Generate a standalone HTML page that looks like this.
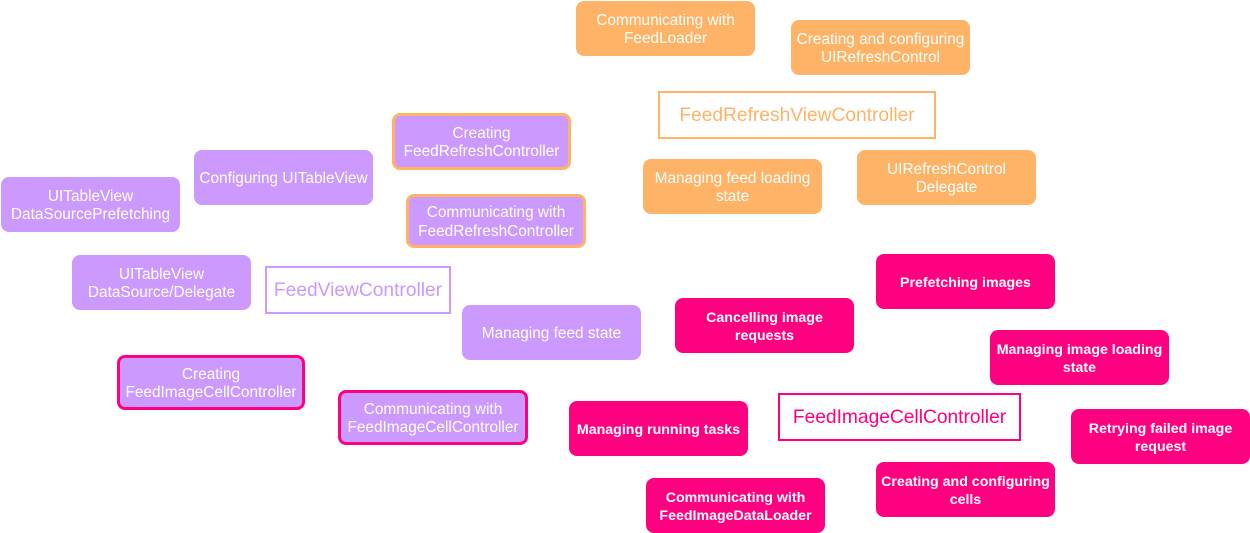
<!DOCTYPE html>
<html><head><meta charset="utf-8"><style>
html,body{margin:0;padding:0;background:#fff;}
body{width:1250px;height:533px;position:relative;overflow:hidden;font-family:"Liberation Sans",Arial,sans-serif;}
.b{position:absolute;box-sizing:border-box;border-radius:8px;display:flex;align-items:center;justify-content:center;text-align:center;color:#fff;font-size:15.4px;line-height:18.5px;padding-top:3px;}
.o{background:#FFB366;}
.p{background:#CC99FF;}
.k{background:#FF0080;font-weight:bold;font-size:14.2px;}
.ob{border:3px solid #FFB366;}
.kb{border:3px solid #FF0080;}
.t{position:absolute;box-sizing:border-box;background:#fff;display:flex;align-items:center;justify-content:center;font-size:19.2px;padding-top:2px;}
</style></head><body>
<div class="b o" style="left:576px;top:1px;width:179px;height:55px">Communicating with<br>FeedLoader</div>
<div class="b o" style="left:791px;top:20px;width:179px;height:55px">Creating and configuring<br>UIRefreshControl</div>
<div class="t" style="left:658px;top:91px;width:278px;height:48px;border:2px solid #FFB366;color:#FFB366">FeedRefreshViewController</div>
<div class="b o" style="left:643px;top:159px;width:179px;height:55px">Managing feed loading<br>state</div>
<div class="b o" style="left:857px;top:150px;width:179px;height:55px">UIRefreshControl<br>Delegate</div>

<div class="b p ob" style="left:392px;top:113px;width:179px;height:57px">Creating<br>FeedRefreshController</div>
<div class="b p ob" style="left:406px;top:194px;width:180px;height:54px">Communicating with<br>FeedRefreshController</div>
<div class="b p" style="left:194px;top:150px;width:179px;height:55px">Configuring UITableView</div>
<div class="b p" style="left:1px;top:177px;width:179px;height:55px">UITableView<br>DataSourcePrefetching</div>
<div class="b p" style="left:72px;top:255px;width:179px;height:55px">UITableView<br>DataSource/Delegate</div>
<div class="t" style="left:265px;top:266px;width:186px;height:48px;border:2px solid #CC99FF;color:#CC99FF">FeedViewController</div>
<div class="b p" style="left:462px;top:305px;width:179px;height:55px">Managing feed state</div>
<div class="b p kb" style="left:117px;top:355px;width:188px;height:55px">Creating<br>FeedImageCellController</div>
<div class="b p kb" style="left:338px;top:390px;width:190px;height:55px">Communicating with<br>FeedImageCellController</div>

<div class="b k" style="left:876px;top:254px;width:179px;height:55px">Prefetching images</div>
<div class="b k" style="left:675px;top:298px;width:179px;height:55px">Cancelling image<br>requests</div>
<div class="b k" style="left:990px;top:330px;width:179px;height:55px">Managing image loading<br>state</div>
<div class="b k" style="left:569px;top:401px;width:179px;height:55px">Managing running tasks</div>
<div class="t" style="left:778px;top:393px;width:243px;height:48px;border:2px solid #FF0080;color:#FF0080">FeedImageCellController</div>
<div class="b k" style="left:1071px;top:409px;width:179px;height:55px">Retrying failed image<br>request</div>
<div class="b k" style="left:876px;top:462px;width:179px;height:55px">Creating and configuring<br>cells</div>
<div class="b k" style="left:646px;top:478px;width:179px;height:55px">Communicating with<br>FeedImageDataLoader</div>
</body></html>
